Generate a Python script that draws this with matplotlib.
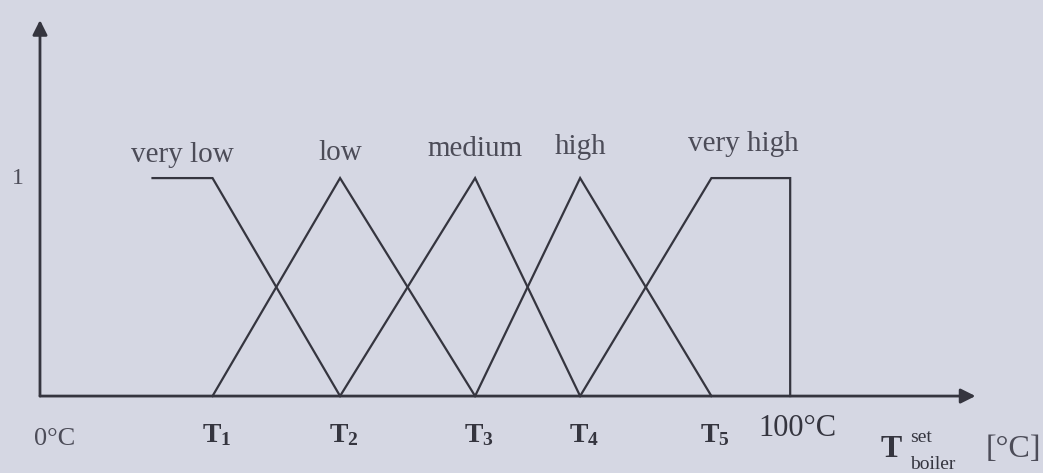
import matplotlib
matplotlib.use("Agg")
import matplotlib.pyplot as plt

plt.rcParams['font.family'] = ['Liberation Serif', 'DejaVu Serif']
plt.rcParams['mathtext.fontset'] = 'custom'
plt.rcParams['mathtext.rm'] = 'Liberation Serif'
plt.rcParams['mathtext.bf'] = 'Liberation Serif:bold'
plt.rcParams['mathtext.it'] = 'Liberation Serif:italic'

# breakpoints of the fuzzy sets (in °C, 0..100 scale)
T = [23, 40, 58, 72, 89.5]
t_min, t_max = 0, 100
vl_start = 15

terms = ["very low", "low", "medium", "high", "very high"]
tick_names = [r"$\mathbf{T_1}$", r"$\mathbf{T_2}$", r"$\mathbf{T_3}$",
              r"$\mathbf{T_4}$", r"$\mathbf{T_5}$"]

# membership function polylines
sets = [
    ([vl_start, T[0], T[1]], [1, 1, 0]),
    ([T[0], T[1], T[2]], [0, 1, 0]),
    ([T[1], T[2], T[3]], [0, 1, 0]),
    ([T[2], T[3], T[4]], [0, 1, 0]),
    ([T[3], T[4], t_max, t_max], [0, 1, 1, 0]),
]
label_x = [(vl_start + T[0]) / 2, T[1], T[2], T[3], (T[4] + t_max) / 2 - 1]
label_y = [1.075, 1.085, 1.10, 1.11, 1.125]

bg = "#d5d7e3"
ink = "#35353f"
txt = "#4c4c58"

fig = plt.figure(figsize=(10.43, 4.73), dpi=100, facecolor=bg)
ax = fig.add_axes([0, 0, 1, 1])
ax.set_facecolor(bg)
ax.set_xlim(-5.33, 133.7)
ax.set_ylim(-0.353, 1.817)
ax.axis("off")

for xs, ys in sets:
    ax.plot(xs, ys, color=ink, lw=1.6, solid_joinstyle="miter")

# axes with arrow heads
ax.annotate("", xy=(124.7, 0), xytext=(0, 0),
            arrowprops=dict(arrowstyle="-|>", color=ink, lw=2.0,
                            mutation_scale=22, shrinkA=0, shrinkB=0))
ax.annotate("", xy=(0, 1.725), xytext=(0, 0),
            arrowprops=dict(arrowstyle="-|>", color=ink, lw=2.0,
                            mutation_scale=22, shrinkA=0, shrinkB=0))

for name, x, y in zip(terms, label_x, label_y):
    ax.text(x, y, name, ha="center", va="baseline", fontsize=21, color=txt)

ax.text(-2.9, 1.0, "1", ha="center", va="center", fontsize=17, color=txt)

for name, x in zip(tick_names, T):
    ax.text(x + 0.5, -0.21, name, ha="center", va="baseline", fontsize=20, color=ink)

ax.text(2, -0.225, "0°C", ha="center", va="baseline", fontsize=19, color=txt)
ax.text(101, -0.185, "100°C", ha="center", va="baseline", fontsize=22, color=ink)

# axis title: T with stacked "set" / "boiler", then the unit
ax.text(112.1, -0.28, "T", ha="left", va="baseline", fontsize=23,
        fontweight="bold", color=ink)
ax.text(116.0, -0.21, "set", ha="left", va="baseline", fontsize=14, color=ink)
ax.text(116.0, -0.335, "boiler", ha="left", va="baseline", fontsize=14, color=ink)
ax.text(126.1, -0.28, "[°C]", ha="left", va="baseline", fontsize=23, color=txt)

fig.savefig("out.png", dpi=100, facecolor=bg)
